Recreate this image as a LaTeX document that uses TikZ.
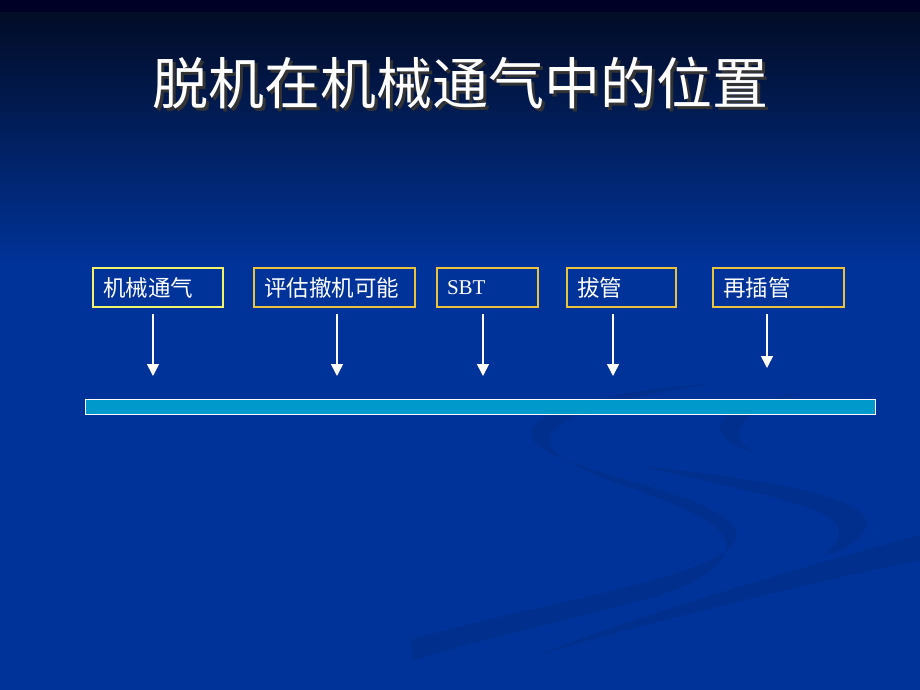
\documentclass[tikz,border=0pt]{standalone}
\usepackage{fontspec}
\setmainfont{Liberation Serif}
\newfontfamily\cjk{Noto Sans CJK SC}
\usepackage{tikz}
\usetikzlibrary{arrows.meta}
\usepackage{xcolor}

\definecolor{slideblue}{HTML}{003399}
\definecolor{slidetop}{HTML}{020A20}
\definecolor{swoosh}{HTML}{002F8E}
\definecolor{boxgold}{HTML}{EBC23A}
\definecolor{boxlime}{HTML}{F2F26A}
\definecolor{barcyan}{HTML}{0099CC}

\tikzset{
  stagebox/.style={line width=2pt, text=white, anchor=west,
    minimum height=39pt, inner xsep=10pt, align=left,
    font=\cjk\fontsize{22.5}{26}\selectfont},
  flowarrow/.style={white, line width=1.6pt, -{Triangle[length=12pt,width=12pt]}}
}

\begin{document}
\begin{tikzpicture}[x=1pt,y=-1pt]
\useasboundingbox (0,0) rectangle (920,690);

% background
\fill[slideblue] (0,0) rectangle (920,690);
\shade[top color=slidetop, bottom color=slideblue] (0,0) rectangle (920,265);
\fill[black!85!blue] (0,0) rectangle (920,12);

% swooshes
\fill[swoosh] (720,383) .. controls (580,392) and (505,420) .. (540,447)
  .. controls (580,475) and (700,490) .. (733,525)
  .. controls (760,560) and (640,585) .. (520,612)
  .. controls (470,624) and (430,634) .. (410,640)
  -- (414,660)
  .. controls (470,642) and (560,622) .. (650,598)
  .. controls (720,578) and (742,548) .. (715,527)
  .. controls (680,497) and (590,482) .. (555,452)
  .. controls (530,428) and (590,400) .. (720,383) -- cycle;
\fill[swoosh] (800,394) .. controls (715,404) and (695,432) .. (752,452)
  .. controls (725,435) and (740,410) .. (800,394) -- cycle;
\fill[swoosh] (640,466) .. controls (760,478) and (880,498) .. (866,528)
  .. controls (858,545) and (838,552) .. (822,556)
  .. controls (845,540) and (850,520) .. (800,505)
  .. controls (760,492) and (700,480) .. (640,466) -- cycle;
\fill[swoosh] (920,535) -- (920,560)
  .. controls (800,585) and (650,622) .. (535,656)
  .. controls (640,614) and (800,568) .. (920,535) -- cycle;

% title, with its shadow
\node[text=white, font=\cjk\fontsize{56}{62}\selectfont] (title) at (460,85)
  {\makebox[0pt][l]{\hspace{3pt}\raisebox{-3pt}{\color{black!80}脱机在机械通气中的位置}}脱机在机械通气中的位置};

% stages
\foreach \n/\l/\w/\c/\t in {b1/92/130/boxlime/机械通气, b2/253/161/boxgold/评估撤机可能,
    b3/436/101/boxgold/{\rmfamily\fontsize{21}{24}\selectfont SBT}, b4/566/109/boxgold/拔管,
    b5/712/131/boxgold/再插管} {
  \pgfmathsetmacro\tw{\w-20}
  \node[stagebox, draw=\c, text width=\tw pt] (\n) at (\l,287.5) {\t};
}

% arrows
\foreach \n/\x/\ye in {b1/153/376, b2/337/376, b3/483/376, b4/613/376, b5/767/368} {
  \coordinate (\n from) at (\x,314);
  \coordinate (\n to) at (\x,\ye);
  \draw[flowarrow] (\n from) -- (\n to);
}

% time bar
\draw[white, line width=1pt, fill=barcyan] (85,399) rectangle (875,414);

\end{tikzpicture}
\end{document}
